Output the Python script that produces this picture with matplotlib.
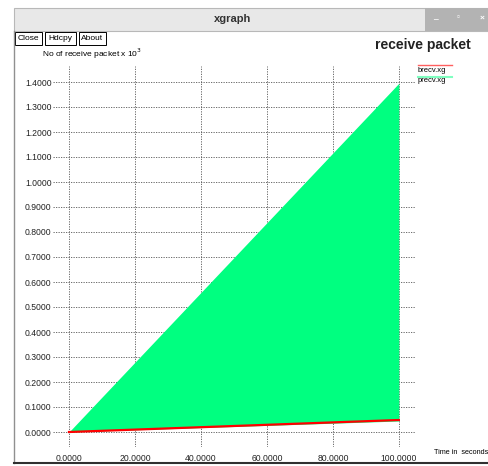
import matplotlib
matplotlib.use("Agg")
import matplotlib.pyplot as plt
from matplotlib.patches import Rectangle

# data
time = [0, 100]
brecv = [0, 0.048]
precv_top = [0, 1.395]
precv_bottom = [0, 0.044]
xticks = [0, 20, 40, 60, 80, 100]
yticks = [i / 10 for i in range(15)]

W, H = 489, 466
plt.rcParams['font.family'] = ['Liberation Sans', 'DejaVu Sans']


def fx(x):
    return x / W


def fy(y):
    return 1 - y / H


fig = plt.figure(figsize=(W / 100, H / 100), dpi=100)

# window chrome
fig.patches.append(Rectangle((fx(14), fy(31)), 1, 23 / H, transform=fig.transFigure,
                             facecolor='#e8e8e8', edgecolor='#b8b8b8', lw=0.8))
fig.patches.append(Rectangle((fx(425), fy(31)), 1, 23 / H, transform=fig.transFigure,
                             facecolor='#b3b3b3', edgecolor='none'))
fig.text(fx(233), fy(19), 'xgraph', ha='center', va='center', fontsize=8,
         fontweight='bold', color='#333333')
for xc, s in [(435, '_'), (458, '▫'), (482, '×')]:
    fig.text(fx(xc), fy(18), s, ha='center', va='center', fontsize=6,
             color='white', fontweight='bold')
fig.add_artist(plt.Line2D([fx(14), fx(14)], [fy(31), fy(463)], color='#909090', lw=1))
fig.add_artist(plt.Line2D([fx(14), 1], [fy(463), fy(463)], color='#303030', lw=1.5))
for x0, x1, s in [(15, 42, 'Close'), (45, 76, 'Hdcpy'), (79, 106, 'About')]:
    fig.patches.append(Rectangle((fx(x0), fy(45)), (x1 - x0) / W, 13 / H,
                                 transform=fig.transFigure, facecolor='white',
                                 edgecolor='black', lw=0.7))
    fig.text(fx((x0 + x1) / 2), fy(38.5), s, ha='center', va='center', fontsize=6)

fig.text(fx(42), fy(54), r'No of receive packet x 10$^3$', ha='left', va='center', fontsize=6)
fig.text(fx(375), fy(45), 'receive packet', ha='left', va='center', fontsize=10,
         fontweight='bold', color='#222222')
fig.text(fx(434), fy(452), 'Time in  seconds', ha='left', va='center', fontsize=5.2)

# plot area
ax = fig.add_axes([fx(53), fy(447), 363 / W, 381 / H])
ax.set_xlim(-4.85, 105.2)
ax.set_ylim(-0.06, 1.464)
ax.fill_between(time, precv_bottom, precv_top, color='#00ff80', lw=0)
ax.plot(time, brecv, color='#ff0000', lw=1.6)
ax.set_xticks(xticks)
ax.set_yticks(yticks)
ax.set_xticklabels(['%.4f' % v for v in xticks], fontsize=6.2, color='#222222')
ax.set_yticklabels(['%.4f' % v for v in yticks], fontsize=6.2, color='#222222')
ax.tick_params(length=0, pad=1)
ax.tick_params(axis='x', pad=5)
ax.grid(True, color='#555555', linestyle=(0, (1.5, 1.5)), lw=0.6)
ax.set_axisbelow(True)
for sp in ax.spines.values():
    sp.set_visible(False)

# legend
fig.add_artist(plt.Line2D([fx(418), fx(452)], [fy(65), fy(65)], color='#ff6060', lw=1))
fig.text(fx(418), fy(70), 'brecv.xg', ha='left', va='center', fontsize=5.5)
fig.add_artist(plt.Line2D([fx(418), fx(452)], [fy(77), fy(77)], color='#80ffc0', lw=1.5))
fig.text(fx(418), fy(81), 'precv.xg', ha='left', va='center', fontsize=5.5)

fig.savefig('out.png', dpi=100)
